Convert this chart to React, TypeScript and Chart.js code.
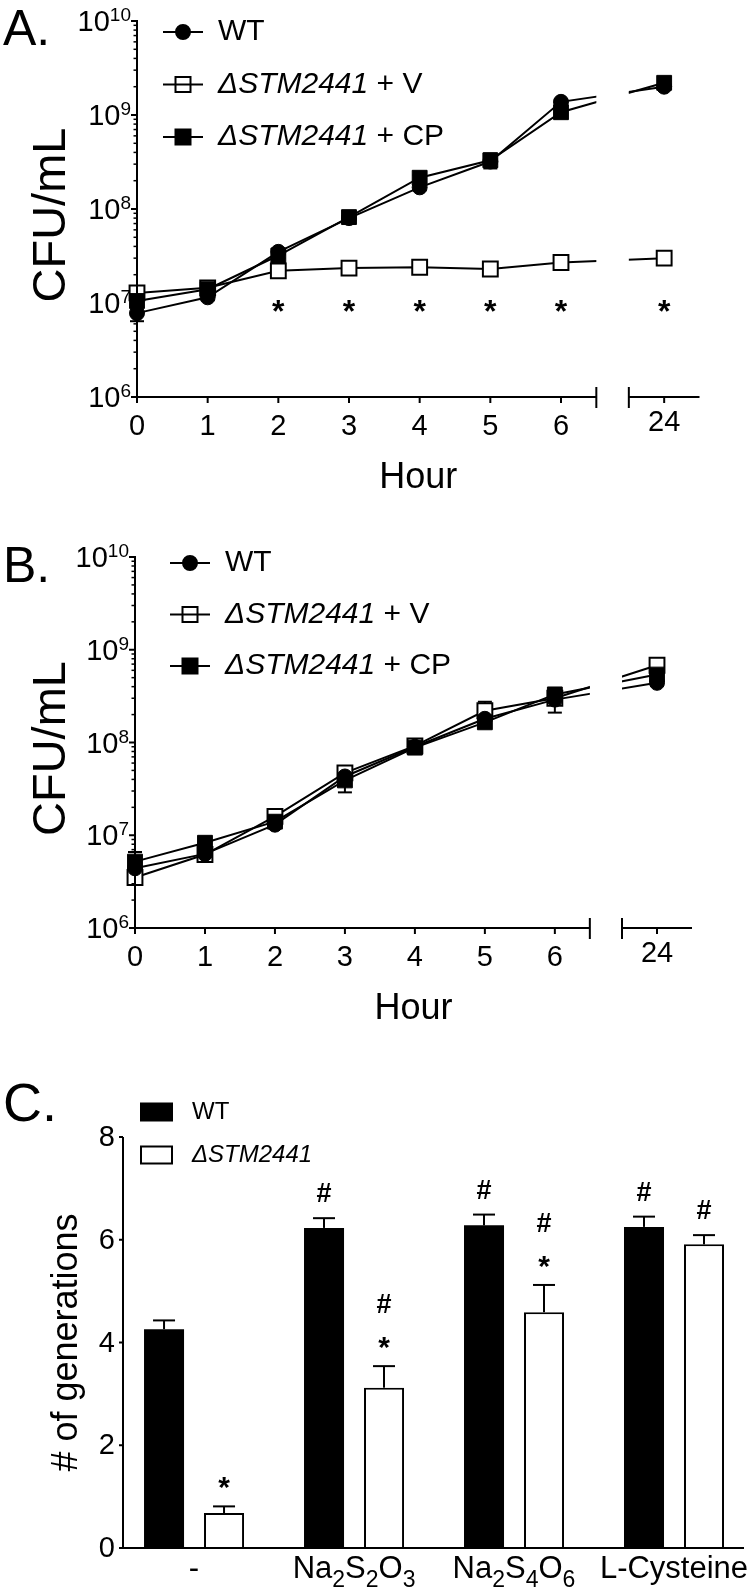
import React, { useEffect, useRef } from "react";
import { Chart, registerables } from "chart.js";

Chart.register(...registerables);

const FONT = '"Liberation Sans", Arial, Helvetica, sans-serif';
const BLACK = "#000000";

// ---------------- Panels A and B : growth curves ----------------
const hours = [0, 1, 2, 3, 4, 5, 6, 24];
const hourTickLabels = ["0", "1", "2", "3", "4", "5", "6", "24"];
const logDecades = [6, 7, 8, 9, 10];
const seriesItalic = ["", "ΔSTM2441", "ΔSTM2441"];
const seriesPlain = ["WT", " + V", " + CP"];
const yTitleGrowth = "CFU/mL";
const xTitleGrowth = "Hour";

// Panel A
const wtA = [7.8e6, 1.15e7, 3.5e7, 8.0e7, 1.7e8, 3.2e8, 1.38e9, 2.0e9];
const wtAErr = [1.4e6, 8e5, 3e6, 5e6, 1.2e7, 4e7, 8e7, 1e8];
const vA = [1.28e7, 1.45e7, 2.2e7, 2.35e7, 2.4e7, 2.3e7, 2.7e7, 3.0e7];
const vAErr = [1e6, 1e6, 1.5e6, 1.5e6, 1.5e6, 1.5e6, 2e6, 2e6];
const cpA = [1.05e7, 1.4e7, 3.2e7, 8.2e7, 2.15e8, 3.3e8, 1.07e9, 2.2e9];
const cpAErr = [1.5e6, 1e6, 2e6, 8e6, 1.5e7, 6e7, 6e7, 1e8];
const starHoursA = [2, 3, 4, 5, 6, 24];
const starLevelA = 1e7;

// Panel B
const wtB = [4.4e6, 6.3e6, 1.3e7, 4.3e7, 9.0e7, 1.8e8, 2.9e8, 4.4e8];
const wtBErr = [8e5, 5e5, 1e6, 3e6, 5e6, 1e7, 8e7, 3e7];
const vB = [3.5e6, 6.2e6, 1.6e7, 4.7e7, 9.2e7, 2.2e8, 3.0e8, 6.8e8];
const vBErr = [5e5, 5e5, 1e6, 3e6, 5e6, 5.5e7, 3e7, 3e7];
const cpB = [5.2e6, 8.3e6, 1.4e7, 3.9e7, 8.8e7, 1.65e8, 3.3e8, 5.4e8];
const cpBErr = [1.4e6, 1e6, 1e6, 1e7, 5e6, 1e7, 2e7, 3e7];
const starHoursB: number[] = [];

// ---------------- Panel C : generations ----------------
const conditions = ["-", "Na2S2O3", "Na2S4O6", "L-Cysteine"];
const groupNames = ["WT", "ΔSTM2441"];
const wtGen = [4.26, 6.23, 6.28, 6.25];
const wtGenErr = [0.17, 0.19, 0.21, 0.2];
const mutGen = [0.68, 3.12, 4.59, 5.91];
const mutGenErr = [0.13, 0.42, 0.53, 0.18];
const wtMarks: string[][] = [[], ["#"], ["#"], ["#"]];
const mutMarks: string[][] = [["*"], ["*", "#"], ["*", "#"], ["#"]]; // bottom to top
const genTicks = [0, 2, 4, 6, 8];
const yTitleGen = "# of generations";

// broken time axis: 0..6.5 h, gap, 23.5..24.5 h
const BREAK_HOUR = 6.5;
const RESUME_HOUR = 23.5;
const LAST_HOUR = 24.5;
const GAP_UNITS = 0.46;
const toAxis = (h: number) => (h <= BREAK_HOUR ? h : BREAK_HOUR + GAP_UNITS + (h - RESUME_HOUR));

function line(ctx: CanvasRenderingContext2D, x1: number, y1: number, x2: number, y2: number, w = 2) {
  ctx.save();
  ctx.strokeStyle = BLACK;
  ctx.lineWidth = w;
  ctx.beginPath();
  ctx.moveTo(x1, y1);
  ctx.lineTo(x2, y2);
  ctx.stroke();
  ctx.restore();
}

function text(
  ctx: CanvasRenderingContext2D,
  s: string,
  x: number,
  y: number,
  font: string,
  align: CanvasTextAlign = "center",
  baseline: CanvasTextBaseline = "middle"
) {
  ctx.save();
  ctx.fillStyle = BLACK;
  ctx.font = font;
  ctx.textAlign = align;
  ctx.textBaseline = baseline;
  ctx.fillText(s, x, y);
  ctx.restore();
}

function rotatedText(ctx: CanvasRenderingContext2D, s: string, cx: number, cy: number, font: string, stretch = 1) {
  ctx.save();
  ctx.translate(cx, cy);
  ctx.rotate(-Math.PI / 2);
  ctx.scale(stretch, 1);
  ctx.fillStyle = BLACK;
  ctx.font = font;
  ctx.textAlign = "center";
  ctx.textBaseline = "middle";
  ctx.fillText(s, 0, 0);
  ctx.restore();
}

function drawMarker(ctx: CanvasRenderingContext2D, kind: number, x: number, y: number) {
  ctx.save();
  ctx.strokeStyle = BLACK;
  ctx.fillStyle = kind === 1 ? "#ffffff" : BLACK;
  ctx.lineWidth = 2;
  ctx.beginPath();
  if (kind === 0) ctx.arc(x, y, 7, 0, Math.PI * 2);
  else ctx.rect(x - 7.5, y - 7.5, 15, 15);
  ctx.fill();
  ctx.stroke();
  ctx.restore();
}

interface GrowthCfg {
  letter: string;
  height: number;
  series: number[][];
  errors: number[][];
  stars: number[];
  starLevel: number;
  padding: { left: number; right: number; top: number; bottom: number };
  letterBaseline: number;
  legendX: number;
  legendY: number;
  legendGap: number;
}

function buildGrowth(canvas: HTMLCanvasElement, cfg: GrowthCfg) {
  const pointStyles = ["circle", "rect", "rect"];
  const radii = [7.5, 10.5, 10.5];
  const fills = [BLACK, "#ffffff", BLACK];
  const orders = [1, 2, 0];
  const datasets = cfg.series.map((vals, si) => ({
    label: seriesItalic[si] + seriesPlain[si],
    data: hours.map((h, i) => ({ x: toAxis(h), y: vals[i] })),
    borderColor: BLACK,
    borderWidth: 2,
    pointStyle: pointStyles[si],
    pointRadius: radii[si],
    pointHoverRadius: radii[si],
    pointBackgroundColor: fills[si],
    pointBorderColor: BLACK,
    pointBorderWidth: si === 1 ? 2 : 1,
    tension: 0,
    clip: false as any,
    order: orders[si],
  }));

  const plugin = {
    id: "growth" + cfg.letter,
    beforeDatasetsDraw(chart: any) {
      const ctx = chart.ctx as CanvasRenderingContext2D;
      const xs = chart.scales.x;
      const ys = chart.scales.y;
      cfg.series.forEach((vals, si) => {
        vals.forEach((v, i) => {
          const e = cfg.errors[si][i];
          if (!e) return;
          const x = xs.getPixelForValue(toAxis(hours[i]));
          const y1 = ys.getPixelForValue(v - e);
          const y2 = ys.getPixelForValue(v + e);
          line(ctx, x, y1, x, y2, 2);
          line(ctx, x - 7, y1, x + 7, y1, 2);
          line(ctx, x - 7, y2, x + 7, y2, 2);
        });
      });
    },
    beforeDatasetDraw(chart: any) {
      const ctx = chart.ctx as CanvasRenderingContext2D;
      const xs = chart.scales.x;
      const g1 = xs.getPixelForValue(BREAK_HOUR);
      const g2 = xs.getPixelForValue(BREAK_HOUR + GAP_UNITS);
      ctx.save();
      ctx.beginPath();
      ctx.rect(0, 0, g1, chart.height);
      ctx.rect(g2, 0, chart.width - g2, chart.height);
      ctx.clip();
    },
    afterDatasetDraw(chart: any) {
      chart.ctx.restore();
    },
    afterDraw(chart: any) {
      const ctx = chart.ctx as CanvasRenderingContext2D;
      const xs = chart.scales.x;
      const ys = chart.scales.y;
      const left = xs.getPixelForValue(0);
      const bottom = ys.getPixelForValue(Math.pow(10, logDecades[0]));
      const top = ys.getPixelForValue(Math.pow(10, logDecades[logDecades.length - 1]));
      const g1 = xs.getPixelForValue(BREAK_HOUR);
      const g2 = xs.getPixelForValue(BREAK_HOUR + GAP_UNITS);
      const xEnd = xs.getPixelForValue(toAxis(LAST_HOUR));

      // axes
      line(ctx, left, top - 1, left, bottom + 1, 2);
      line(ctx, left, bottom, g1, bottom, 2);
      line(ctx, g1, bottom - 10, g1, bottom + 11, 2);
      line(ctx, g2, bottom, xEnd, bottom, 2);
      line(ctx, g2, bottom - 10, g2, bottom + 11, 2);

      // x ticks + labels
      hours.forEach((h, i) => {
        const x = xs.getPixelForValue(toAxis(h));
        line(ctx, x, bottom, x, bottom + 6, 2);
        text(ctx, hourTickLabels[i], x, bottom + (h > BREAK_HOUR ? 26 : 30), `29px ${FONT}`);
      });
      text(ctx, xTitleGrowth, (left + xEnd) / 2, bottom + 81, `36px ${FONT}`);

      // y ticks (log) + labels
      logDecades.forEach((d, di) => {
        const y = ys.getPixelForValue(Math.pow(10, d));
        line(ctx, left - 6, y, left, y, 2);
        if (di < logDecades.length - 1) {
          for (let m = 2; m <= 9; m++) {
            const ym = ys.getPixelForValue(m * Math.pow(10, d));
            line(ctx, left - 3.5, ym, left, ym, 1.5);
          }
        }
        const exp = String(d);
        ctx.save();
        ctx.font = `19px ${FONT}`;
        const we = ctx.measureText(exp).width;
        ctx.font = `29px ${FONT}`;
        const wb = ctx.measureText("10").width;
        ctx.restore();
        const xr = left - 6;
        text(ctx, "10", xr - we - wb, y + 2, `29px ${FONT}`, "left");
        text(ctx, exp, xr - we, y - 5, `19px ${FONT}`, "left");
      });
      rotatedText(ctx, yTitleGrowth, 52, (top + bottom) / 2 + 6, `47px ${FONT}`);

      // significance stars
      cfg.stars.forEach((h) => {
        const x = xs.getPixelForValue(toAxis(h));
        const y = ys.getPixelForValue(cfg.starLevel);
        text(ctx, "*", x, y + 19, `bold 32px ${FONT}`, "center", "alphabetic");
      });

      // legend (line drawn over the marker, as in the original key)
      for (let si = 0; si < 3; si++) {
        const y = cfg.legendY + si * cfg.legendGap;
        const mx = cfg.legendX;
        drawMarker(ctx, si, mx, y);
        line(ctx, mx - 20, y, mx + 20, y, 2);
        let tx = mx + 35;
        if (seriesItalic[si]) {
          const f = `italic 30px ${FONT}`;
          text(ctx, seriesItalic[si], tx, y, f, "left");
          ctx.save();
          ctx.font = f;
          tx += ctx.measureText(seriesItalic[si]).width;
          ctx.restore();
        }
        text(ctx, seriesPlain[si], tx, y, `30px ${FONT}`, "left");
      }

      // panel letter
      text(ctx, cfg.letter + ".", 3, cfg.letterBaseline, `50px ${FONT}`, "left", "alphabetic");
    },
  };

  return new Chart(canvas, {
    type: "line",
    data: { datasets: datasets as any },
    options: {
      responsive: false,
      animation: false,
      devicePixelRatio: 1,
      events: [],
      layout: { padding: cfg.padding },
      plugins: { legend: { display: false }, tooltip: { enabled: false } },
      scales: {
        x: { type: "linear", min: 0, max: toAxis(LAST_HOUR), display: false },
        y: {
          type: "logarithmic",
          min: Math.pow(10, logDecades[0]),
          max: Math.pow(10, logDecades[logDecades.length - 1]),
          display: false,
        },
      },
    },
    plugins: [plugin as any],
  });
}

function drawChem(ctx: CanvasRenderingContext2D, label: string, cx: number, baseline: number, size: number) {
  const parts = label.split(/(\d+)/).filter((s) => s.length > 0);
  const big = `${size}px ${FONT}`;
  const small = `${Math.round(size * 0.75)}px ${FONT}`;
  ctx.save();
  const widths = parts.map((p) => {
    ctx.font = /^\d+$/.test(p) ? small : big;
    return ctx.measureText(p).width;
  });
  const total = widths.reduce((a, b) => a + b, 0);
  let x = cx - total / 2;
  ctx.fillStyle = BLACK;
  ctx.textAlign = "left";
  ctx.textBaseline = "alphabetic";
  parts.forEach((p, i) => {
    const sub = /^\d+$/.test(p);
    ctx.font = sub ? small : big;
    ctx.fillText(p, x, baseline + (sub ? size * 0.28 : 0));
    x += widths[i];
  });
  ctx.restore();
}

function drawMark(ctx: CanvasRenderingContext2D, m: string, x: number, yCenter: number) {
  if (m === "*") text(ctx, "*", x, yCenter + 17, `bold 30px ${FONT}`, "center", "alphabetic");
  else text(ctx, m, x, yCenter + 10, `bold 27px ${FONT}`, "center", "alphabetic");
}

function buildGen(canvas: HTMLCanvasElement) {
  const plugin = {
    id: "genPanel",
    afterDatasetsDraw(chart: any) {
      const ctx = chart.ctx as CanvasRenderingContext2D;
      const ys = chart.scales.y;
      const groups: [number[], number[], string[][]][] = [
        [wtGen, wtGenErr, wtMarks],
        [mutGen, mutGenErr, mutMarks],
      ];
      groups.forEach(([vals, errs, marks], di) => {
        const meta = chart.getDatasetMeta(di);
        meta.data.forEach((bar: any, j: number) => {
          const x = bar.x;
          const yTop = ys.getPixelForValue(vals[j]);
          const yErr = ys.getPixelForValue(vals[j] + errs[j]);
          line(ctx, x, yTop, x, yErr, 2);
          line(ctx, x - 11, yErr, x + 11, yErr, 2);
          let y = yErr - 26;
          marks[j].forEach((m) => {
            drawMark(ctx, m, x, y);
            y -= 37;
          });
        });
      });
    },
    afterDraw(chart: any) {
      const ctx = chart.ctx as CanvasRenderingContext2D;
      const xs = chart.scales.x;
      const ys = chart.scales.y;
      const left = chart.chartArea.left;
      const right = chart.chartArea.right;
      const y0 = ys.getPixelForValue(genTicks[0]);
      const yMax = ys.getPixelForValue(genTicks[genTicks.length - 1]);
      line(ctx, left, yMax, left, y0 + 1, 2);
      line(ctx, left - 3, y0, right, y0, 2);
      genTicks.forEach((t) => {
        const y = ys.getPixelForValue(t);
        line(ctx, left - 4, y, left, y, 2);
        text(ctx, String(t), left - 8, y + 1, `29px ${FONT}`, "right");
      });
      conditions.forEach((c, i) => {
        drawChem(ctx, c, xs.getPixelForValue(i), y0 + 30, 31);
      });
      rotatedText(ctx, yTitleGen, 67, (y0 + yMax) / 2, `36px ${FONT}`);

      // legend
      const lx = 140;
      const ly = [52, 95];
      ctx.save();
      ctx.fillStyle = BLACK;
      ctx.fillRect(lx, ly[0] - 9.5, 33, 19);
      ctx.strokeStyle = BLACK;
      ctx.lineWidth = 2;
      ctx.fillStyle = "#ffffff";
      ctx.fillRect(lx + 1, ly[1] - 8.5, 31, 17);
      ctx.strokeRect(lx + 1, ly[1] - 8.5, 31, 17);
      ctx.restore();
      text(ctx, groupNames[0], lx + 52, ly[0], `24px ${FONT}`, "left");
      text(ctx, groupNames[1], lx + 52, ly[1], `italic 24px ${FONT}`, "left");

      text(ctx, "C.", 3, 61, `54px ${FONT}`, "left", "alphabetic");
    },
  };

  return new Chart(canvas, {
    type: "bar",
    data: {
      datasets: [
        {
          label: groupNames[0],
          data: conditions.map((_, i) => ({ x: i, y: wtGen[i] })),
          backgroundColor: BLACK,
          borderColor: BLACK,
          borderWidth: 0,
          categoryPercentage: 0.75,
          barPercentage: 0.667,
        },
        {
          label: groupNames[1],
          data: conditions.map((_, i) => ({ x: i, y: mutGen[i] })),
          backgroundColor: "#ffffff",
          borderColor: BLACK,
          borderWidth: 2,
          categoryPercentage: 0.75,
          barPercentage: 0.667,
        },
      ] as any,
    },
    options: {
      responsive: false,
      animation: false,
      devicePixelRatio: 1,
      events: [],
      layout: { padding: { left: 123, right: 6, top: 77, bottom: 45 } },
      plugins: { legend: { display: false }, tooltip: { enabled: false } },
      scales: {
        x: {
          type: "linear",
          min: -0.444,
          max: 3.4375,
          offset: false,
          display: false,
          afterBuildTicks: (scale: any) => {
            scale.ticks = conditions.map((_, i) => ({ value: i }));
          },
        },
        y: { type: "linear", min: 0, max: 8, display: false },
      },
    },
    plugins: [plugin as any],
  });
}

function Panel({ height, build }: { height: number; build: (c: HTMLCanvasElement) => Chart }) {
  const ref = useRef<HTMLCanvasElement>(null);
  useEffect(() => {
    const chart = build(ref.current as HTMLCanvasElement);
    return () => chart.destroy();
  }, []);
  return <canvas ref={ref} width={750} height={height} style={{ display: "block", width: 750, height }} />;
}

const cfgA: GrowthCfg = {
  letter: "A",
  height: 540,
  series: [wtA, vA, cpA],
  errors: [wtAErr, vAErr, cpAErr],
  stars: starHoursA,
  starLevel: starLevelA,
  padding: { left: 137, right: 50.5, top: 21, bottom: 143 },
  letterBaseline: 45,
  legendX: 183,
  legendY: 32,
  legendGap: 52.5,
};

const cfgB: GrowthCfg = {
  letter: "B",
  height: 520,
  series: [wtB, vB, cpB],
  errors: [wtBErr, vBErr, cpBErr],
  stars: starHoursB,
  starLevel: starLevelA,
  padding: { left: 135, right: 58, top: 17, bottom: 132 },
  letterBaseline: 42,
  legendX: 190,
  legendY: 23,
  legendGap: 51.5,
};

export default function App() {
  return (
    <div style={{ position: "absolute", left: 0, top: 0, width: 750, height: 1593, background: "#ffffff" }}>
      <Panel height={540} build={(c) => buildGrowth(c, cfgA)} />
      <Panel height={520} build={(c) => buildGrowth(c, cfgB)} />
      <Panel height={533} build={buildGen} />
    </div>
  );
}
